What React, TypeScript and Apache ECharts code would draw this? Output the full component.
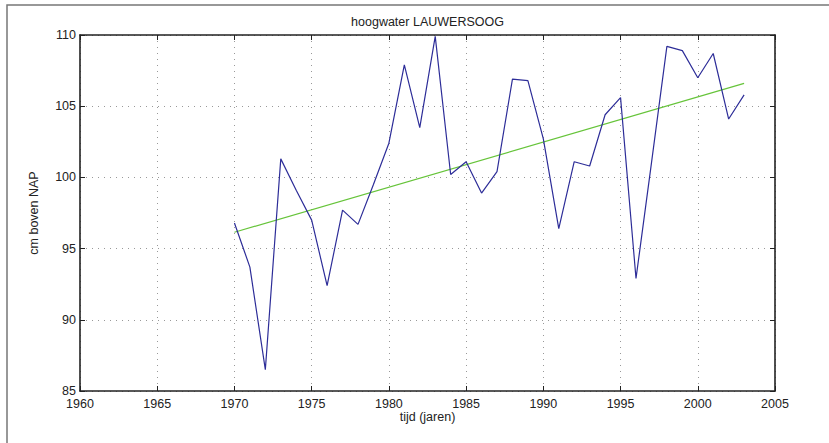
import React, { useEffect, useRef } from "react";
import * as echarts from "echarts";

const years = [
  1970, 1971, 1972, 1973, 1974, 1975, 1976, 1977, 1978, 1979, 1980, 1981,
  1982, 1983, 1984, 1985, 1986, 1987, 1988, 1989, 1990, 1991, 1992, 1993,
  1994, 1995, 1996, 1997, 1998, 1999, 2000, 2001, 2002, 2003,
];
const highWater = [
  96.8, 93.7, 86.5, 101.3, 99.1, 97.0, 92.4, 97.7, 96.7, 99.5, 102.4, 107.9,
  103.5, 109.9, 100.2, 101.1, 98.9, 100.4, 106.9, 106.8, 102.7, 96.4, 101.1,
  100.8, 104.4, 105.6, 92.9, 101.0, 109.2, 108.9, 107.0, 108.7, 104.1, 105.8,
];
const trendYears = [1970, 2003];
const trendValues = [96.15, 106.6];

const titleText = "hoogwater LAUWERSOOG";
const xName = "tijd (jaren)";
const yName = "cm boven NAP";

const FONT = "'Liberation Sans', Arial, Helvetica, sans-serif";
const FS = 12.5;

export default function App() {
  const ref = useRef<HTMLDivElement>(null);
  useEffect(() => {
    if (!ref.current) return;
    const chart = echarts.init(ref.current, null, { renderer: "svg" });
    const gridLeft = 80;
    const gridTop = 35;
    const gridW = 695;
    const gridH = 356;
    const axisCommon = {
      axisLine: { show: true, lineStyle: { color: "#222", width: 1.6 } },
      axisTick: { show: true, inside: true, length: 5, lineStyle: { color: "#222", width: 1 } },
    };
    const dotted = { show: true, lineStyle: { color: "#999", type: [1, 5], width: 1 } };
    chart.setOption({
      animation: false,
      backgroundColor: "#fff",
      textStyle: { fontFamily: FONT },
      grid: { left: gridLeft, top: gridTop, width: gridW, height: gridH, containLabel: false },
      graphic: [
        {
          type: "rect",
          shape: { x: 7, y: 5, width: 900, height: 500 },
          style: { fill: "none", stroke: "#777", lineWidth: 1.5 },
          silent: true,
          z: -1,
        },
        {
          type: "text",
          x: gridLeft + gridW / 2,
          y: 22,
          style: {
            text: titleText,
            fontFamily: FONT,
            fontSize: FS,
            fill: "#222",
            textAlign: "center",
            textVerticalAlign: "middle",
          },
        },
        {
          type: "text",
          x: gridLeft + gridW / 2,
          y: 417,
          style: {
            text: xName,
            fontFamily: FONT,
            fontSize: FS,
            fill: "#222",
            textAlign: "center",
            textVerticalAlign: "middle",
          },
        },
        {
          type: "text",
          x: 34,
          y: gridTop + gridH / 2,
          rotation: Math.PI / 2,
          style: {
            text: yName,
            fontFamily: FONT,
            fontSize: FS,
            fill: "#222",
            textAlign: "center",
            textVerticalAlign: "middle",
          },
        },
      ],
      xAxis: [
        {
          type: "value",
          position: "bottom",
          min: 1960,
          max: 2005,
          interval: 5,
          ...axisCommon,
          axisLabel: {
            show: true,
            color: "#222",
            fontSize: FS,
            fontFamily: FONT,
            margin: 6,
            formatter: (v: number) => String(v),
          },
          splitLine: dotted,
        },
        {
          type: "value",
          position: "top",
          min: 1960,
          max: 2005,
          interval: 5,
          ...axisCommon,
          axisLabel: { show: false },
          splitLine: { show: false },
        },
      ],
      yAxis: [
        {
          type: "value",
          position: "left",
          min: 85,
          max: 110,
          interval: 5,
          ...axisCommon,
          axisLabel: {
            show: true,
            color: "#222",
            fontSize: FS,
            fontFamily: FONT,
            margin: 4,
            formatter: (v: number) => String(v),
          },
          splitLine: dotted,
        },
        {
          type: "value",
          position: "right",
          min: 85,
          max: 110,
          interval: 5,
          ...axisCommon,
          axisLabel: { show: false },
          splitLine: { show: false },
        },
      ],
      series: [
        {
          type: "line",
          xAxisIndex: 0,
          yAxisIndex: 0,
          data: years.map((y, i) => [y, highWater[i]]),
          showSymbol: false,
          symbol: "none",
          lineStyle: { color: "#2d2d98", width: 1.2 },
          z: 3,
        },
        {
          type: "line",
          xAxisIndex: 0,
          yAxisIndex: 0,
          data: trendYears.map((y, i) => [y, trendValues[i]]),
          showSymbol: false,
          symbol: "none",
          lineStyle: { color: "#66c43a", width: 1.2 },
          z: 2,
        },
      ],
    });
    return () => chart.dispose();
  }, []);
  return (
    <div
      ref={ref}
      style={{ position: "fixed", left: 0, top: 0, width: 829, height: 443, background: "#fff" }}
    />
  );
}
